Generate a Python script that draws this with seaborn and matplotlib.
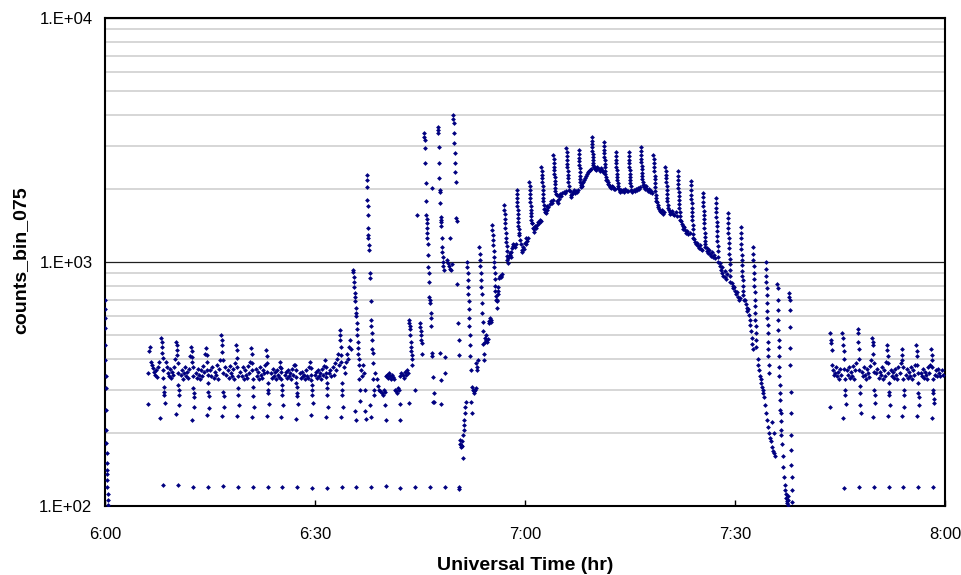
import matplotlib
matplotlib.use("Agg")
import matplotlib.pyplot as plt
from matplotlib.ticker import FixedLocator, NullFormatter
import seaborn as sns
import pandas as pd

# ---- data: (minutes after 6:00 UT, counts) ----
start_column = [(0.00, 698), (0.00, 640), (0.02, 590), (0.03, 537), (0.05, 457), (0.07, 397), (0.10, 340),
                (0.12, 304), (0.15, 247), (0.17, 205), (0.20, 181), (0.22, 165), (0.25, 150), (0.27, 140),
                (0.30, 135), (0.32, 128), (0.35, 120), (0.37, 112), (0.40, 106), (0.42, 101)]

low_points = [(8.29, 122), (10.43, 122), (12.57, 120), (14.71, 120), (16.86, 121), (19.00, 120), (21.14, 120),
              (23.29, 120), (25.29, 120), (27.43, 120), (29.57, 119), (31.71, 119), (33.81, 120), (35.86, 120),
              (37.96, 120), (40.10, 121), (42.14, 119), (44.29, 120), (46.43, 120), (48.53, 120), (50.61, 120),
              (50.61, 117), (105.60, 118), (107.76, 120), (109.86, 120), (111.96, 120), (114.04, 120),
              (116.14, 120), (118.29, 120)]

left_baseline = [
    (6.10, 350), (6.19, 262), (6.30, 430), (6.43, 448), (6.55, 390), (6.70, 378), (6.85, 368), (7.00, 355),
    (7.15, 345), (7.30, 361), (7.45, 338), (7.60, 372), (7.75, 390), (7.86, 229),
    (8.04, 490), (8.09, 470), (8.14, 448), (8.19, 424), (8.24, 404), (8.29, 361), (8.34, 335), (8.39, 307),
    (8.44, 293), (8.49, 285), (8.55, 264),
    (8.65, 390), (8.80, 370), (8.95, 350), (9.10, 340), (9.25, 365), (9.40, 335), (9.55, 355), (9.70, 345),
    (9.85, 372), (9.98, 400),
    (10.18, 470), (10.23, 458), (10.28, 436), (10.33, 415), (10.38, 385), (10.43, 350), (10.48, 313),
    (10.53, 299), (10.58, 285), (10.63, 259), (10.20, 238),
    (10.80, 345), (10.95, 360), (11.10, 330), (11.25, 350), (11.40, 370), (11.55, 340), (11.70, 355),
    (11.85, 335), (12.00, 365), (12.15, 410),
    (12.32, 448), (12.37, 430), (12.42, 408), (12.47, 390), (12.52, 372), (12.57, 340), (12.62, 304),
    (12.67, 290), (12.72, 280), (12.77, 255), (12.40, 225),
    (12.95, 350), (13.10, 335), (13.25, 365), (13.40, 345), (13.55, 330), (13.70, 360), (13.85, 340),
    (14.00, 375), (14.15, 355), (14.30, 420),
    (14.46, 443), (14.51, 415), (14.56, 390), (14.61, 361), (14.66, 345), (14.71, 320), (14.76, 293),
    (14.81, 282), (14.86, 252), (14.55, 235),
    (15.05, 360), (15.20, 340), (15.35, 370), (15.50, 335), (15.65, 355), (15.80, 345), (15.95, 380),
    (16.10, 330), (16.25, 365), (16.45, 395),
    (16.61, 502), (16.66, 479), (16.71, 457), (16.76, 428), (16.81, 397), (16.86, 350), (16.91, 293),
    (16.96, 282), (17.01, 255), (16.70, 233),
    (17.20, 370), (17.35, 345), (17.50, 360), (17.65, 335), (17.80, 375), (17.95, 350), (18.10, 340),
    (18.25, 365), (18.40, 330), (18.55, 385),
    (18.75, 457), (18.80, 436), (18.85, 405), (18.90, 370), (18.95, 340), (19.00, 304), (19.05, 285),
    (19.10, 259), (18.85, 233),
    (19.35, 355), (19.50, 340), (19.65, 370), (19.80, 330), (19.95, 360), (20.10, 345), (20.25, 335),
    (20.40, 375), (20.55, 350), (20.70, 390),
    (20.89, 443), (20.94, 420), (20.99, 385), (21.04, 360), (21.09, 330), (21.14, 307), (21.19, 282),
    (21.24, 255), (21.00, 231),
    (21.50, 365), (21.65, 340), (21.80, 355), (21.95, 330), (22.10, 370), (22.25, 345), (22.40, 335),
    (22.55, 360), (22.70, 350), (22.85, 380),
    (23.04, 436), (23.09, 410), (23.14, 385), (23.19, 355), (23.24, 319), (23.29, 300), (23.34, 290),
    (23.39, 262), (23.15, 233),
    (23.65, 350), (23.80, 335), (23.95, 365), (24.10, 340), (24.25, 355), (24.40, 330), (24.55, 360),
    (24.70, 345), (24.85, 338), (25.00, 370),
    (25.04, 390), (25.09, 368), (25.14, 355), (25.19, 330), (25.24, 313), (25.29, 298), (25.34, 285),
    (25.39, 259), (25.15, 231),
    (25.65, 345), (25.80, 355), (25.95, 335), (26.10, 360), (26.25, 340), (26.40, 350), (26.55, 332),
    (26.70, 365), (26.85, 345), (27.00, 380),
    (27.18, 378), (27.23, 360), (27.28, 338), (27.33, 320), (27.38, 307), (27.43, 290), (27.48, 282),
    (27.53, 262), (27.30, 227),
    (27.80, 350), (27.95, 335), (28.10, 355), (28.25, 340), (28.40, 345), (28.55, 330), (28.70, 360),
    (28.85, 342), (29.00, 335), (29.15, 372),
    (29.32, 390), (29.37, 368), (29.42, 345), (29.47, 328), (29.52, 313), (29.57, 298), (29.62, 285),
    (29.67, 264), (29.45, 235),
    (29.95, 345), (30.10, 355), (30.25, 335), (30.40, 360), (30.55, 340), (30.70, 350), (30.85, 330),
    (31.00, 365), (31.15, 345), (31.30, 375),
    (31.46, 397), (31.51, 372), (31.56, 350), (31.61, 338), (31.66, 320), (31.71, 304), (31.76, 285),
    (31.81, 255), (31.60, 231),
    (32.05, 350), (32.20, 360), (32.35, 340), (32.50, 370), (32.65, 345), (32.80, 385), (32.95, 360),
    (33.10, 400), (33.25, 420), (33.40, 380),
    (33.50, 526), (33.55, 502), (33.60, 479), (33.65, 448), (33.70, 415), (33.75, 390), (33.81, 320),
    (33.86, 299), (33.91, 285), (33.96, 255), (33.70, 231),
    (34.10, 370), (34.25, 350), (34.40, 390), (34.55, 420), (34.70, 400), (34.85, 450), (35.00, 480),
    (35.15, 440),
]

mid_disturbed = [
    (35.40, 930), (35.45, 910), (35.50, 870), (35.55, 830), (35.60, 790), (35.65, 745), (35.70, 720),
    (35.75, 690), (35.80, 650), (35.85, 620), (35.90, 600), (35.95, 560), (36.00, 530), (36.05, 500),
    (36.10, 470), (36.15, 445), (36.20, 420), (36.25, 400), (36.30, 380), (36.35, 330), (36.40, 300),
    (36.45, 270), (35.75, 246), (35.85, 225),
    (36.60, 360), (36.75, 340), (36.90, 380), (37.05, 350), (37.20, 300), (37.10, 246), (37.25, 228),
    (37.40, 2270), (37.42, 2170), (37.45, 2030), (37.48, 1800), (37.50, 1690), (37.53, 1560), (37.56, 1380),
    (37.59, 1290), (37.62, 1250), (37.65, 1170), (37.68, 1120), (37.80, 900), (37.85, 860), (37.95, 690),
    (38.00, 580), (38.05, 545), (38.10, 510), (38.15, 480), (38.20, 440), (38.25, 425), (38.30, 385),
    (38.35, 330), (38.40, 300), (38.45, 285), (37.90, 259), (38.00, 231),
    (38.60, 350), (38.80, 330), (39.00, 310), (39.20, 300), (39.35, 295), (39.50, 290), (39.65, 285),
    (39.80, 300), (39.95, 292), (40.10, 340), (40.25, 345), (40.40, 335), (40.55, 350), (40.70, 340),
    (40.85, 330), (41.00, 345), (41.15, 338), (41.30, 330), (41.45, 300), (41.60, 295), (41.75, 290),
    (41.90, 305), (42.05, 298), (42.20, 340), (42.35, 350), (42.50, 345), (42.65, 335), (42.80, 355),
    (42.95, 345), (43.10, 360), (43.25, 350),
    (40.00, 259), (40.10, 225), (42.10, 262), (42.20, 225), (43.40, 264),
    (43.40, 580), (43.45, 560), (43.50, 545), (43.55, 530), (43.60, 500), (43.65, 470), (43.70, 450),
    (43.75, 430), (43.80, 415), (43.85, 400), (43.90, 380), (44.30, 299), (44.60, 1560),
    (45.00, 560), (45.05, 540), (45.10, 520), (45.15, 500), (45.20, 480), (45.25, 465), (45.30, 420),
    (45.60, 3380), (45.62, 3250), (45.65, 3160), (45.70, 2930), (45.75, 2550), (45.80, 2100), (45.85, 1770),
    (45.90, 1560), (45.93, 1500), (45.96, 1440), (46.00, 1380), (46.03, 1320), (46.06, 1260), (46.10, 1190),
    (46.15, 1070), (46.20, 950), (46.23, 900), (46.28, 830), (46.35, 720), (46.40, 700), (46.45, 680),
    (46.50, 620), (46.55, 590), (46.60, 545), (46.70, 425), (46.75, 410), (46.85, 338), (46.95, 290),
    (47.05, 267), (46.75, 2010),
    (47.55, 3580), (47.58, 3480), (47.60, 3380), (47.65, 2960), (47.70, 2550), (47.75, 2210), (47.80, 1970),
    (47.83, 1940), (47.88, 1750), (47.93, 1530), (47.96, 1490), (48.00, 1460), (48.03, 1400), (48.10, 1250),
    (48.15, 1150), (48.20, 1100), (48.25, 1050), (48.30, 1000), (48.35, 960), (48.40, 930),
    (47.90, 424), (48.60, 408), (48.00, 328), (48.60, 350), (48.00, 262), (46.80, 267),
    (48.90, 1020), (49.00, 990), (49.10, 960), (49.30, 1260), (49.35, 940), (49.45, 930), (49.55, 980),
    (49.75, 4010), (49.78, 3850), (49.80, 3710), (49.85, 3380), (49.90, 3080), (49.95, 2800), (50.00, 2550),
    (50.05, 2340), (50.10, 2130), (50.20, 1510), (50.25, 1470), (50.35, 810), (50.45, 560), (50.50, 480),
    (50.55, 415),
    (50.70, 186), (50.78, 180), (50.85, 175), (50.92, 178), (51.00, 184), (51.05, 176), (51.10, 157),
    (51.15, 195), (51.22, 205), (51.28, 215), (51.34, 225), (51.40, 240), (51.46, 255), (51.52, 267),
]

arc_spikes = [
    (51.71, 1000), (51.75, 950), (51.79, 900), (51.83, 843), (51.87, 790), (51.91, 740), (51.95, 690),
    (51.99, 640), (52.03, 590), (52.07, 545), (52.11, 500), (52.15, 455), (52.19, 410), (52.23, 361),
    (52.35, 267), (52.40, 240), (52.45, 307), (52.55, 300), (52.65, 295), (52.75, 290), (52.85, 300),
    (52.95, 305), (53.05, 385), (53.12, 370), (53.20, 361), (53.28, 395),
    (53.45, 1150), (53.50, 1080), (53.55, 1020), (53.60, 960), (53.65, 900), (53.70, 843), (53.75, 790),
    (53.80, 740), (53.85, 680), (53.90, 620), (53.95, 570), (54.00, 520), (54.05, 460), (54.10, 420),
    (54.15, 397),
    (54.25, 470), (54.32, 490), (54.40, 480), (54.48, 500), (54.56, 470), (54.65, 485), (54.80, 560),
    (54.90, 575), (55.00, 590), (55.10, 570), (55.20, 580),
    (55.30, 1420), (55.34, 1350), (55.38, 1290), (55.42, 1230), (55.46, 1170), (55.50, 1110), (55.54, 1050),
    (55.58, 1000), (55.62, 950), (55.66, 900), (55.70, 850), (55.74, 800), (55.78, 760), (55.82, 725),
    (55.86, 698),
    (55.95, 690), (56.00, 650), (56.05, 700), (56.10, 740), (56.15, 760), (56.20, 790), (56.30, 860),
    (56.40, 880), (56.50, 870), (56.60, 880), (56.70, 890),
    (57.00, 1710), (57.04, 1640), (57.08, 1570), (57.12, 1500), (57.16, 1440), (57.20, 1380), (57.24, 1320),
    (57.28, 1260), (57.32, 1210), (57.36, 1160), (57.40, 1110), (57.44, 1060), (57.48, 1020), (57.52, 990),
    (57.60, 1040), (57.70, 1060), (57.80, 1090), (57.88, 1070), (57.95, 1050), (58.05, 1100), (58.15, 1140),
    (58.25, 1160), (58.35, 1180), (58.45, 1170), (58.55, 1150), (58.65, 1180),
    (58.80, 1970), (58.83, 1900), (58.86, 1830), (58.89, 1760), (58.92, 1700), (58.95, 1640), (58.98, 1580),
    (59.01, 1520), (59.04, 1460), (59.07, 1410), (59.10, 1360), (59.13, 1310),
    (59.20, 1290), (59.30, 1230), (59.40, 1180), (59.50, 1120), (59.60, 1100), (59.70, 1150), (59.80, 1130),
    (59.95, 1200), (60.10, 1180), (60.20, 1250), (60.30, 1220), (60.45, 1260),
    (60.62, 2130), (60.65, 2050), (60.68, 1970), (60.71, 1900), (60.74, 1830), (60.77, 1760), (60.80, 1700),
    (60.83, 1640), (60.86, 1590), (60.89, 1540), (60.92, 1490), (60.95, 1440),
    (61.05, 1440), (61.15, 1380), (61.25, 1330), (61.35, 1360), (61.45, 1400), (61.55, 1380), (61.65, 1420),
    (61.80, 1460), (61.95, 1440), (62.10, 1490), (62.25, 1470),
    (62.35, 2460), (62.38, 2370), (62.41, 2280), (62.44, 2200), (62.47, 2120), (62.50, 2040), (62.53, 1970),
    (62.56, 1900), (62.59, 1830), (62.62, 1770), (62.65, 1710), (62.68, 1650),
    (62.80, 1650), (62.90, 1600), (63.00, 1590), (63.10, 1640), (63.20, 1700), (63.35, 1680), (63.50, 1730),
    (63.65, 1770), (63.80, 1750), (63.95, 1790),
    (64.05, 2750), (64.08, 2650), (64.11, 2550), (64.14, 2460), (64.17, 2380), (64.20, 2300), (64.23, 2220),
    (64.26, 2150), (64.29, 2080), (64.32, 2010), (64.35, 1950), (64.38, 1900),
    (64.50, 1880), (64.60, 1780), (64.70, 1750), (64.80, 1820), (64.90, 1860), (65.05, 1900), (65.20, 1870),
    (65.35, 1920), (65.50, 1940), (65.65, 1910), (65.80, 1950),
    (65.92, 2930), (65.95, 2820), (65.98, 2720), (66.01, 2620), (66.04, 2530), (66.07, 2440), (66.10, 2360),
    (66.13, 2280), (66.16, 2200), (66.19, 2120), (66.22, 2050), (66.25, 1970),
    (66.40, 1950), (66.50, 1880), (66.60, 1840), (66.70, 1900), (66.85, 1930), (67.00, 1970), (67.15, 1910),
    (67.30, 1950), (67.45, 1930), (67.58, 1970),
    (67.65, 2880), (67.68, 2780), (67.71, 2680), (67.74, 2590), (67.77, 2500), (67.80, 2420), (67.83, 2340),
    (67.86, 2260), (67.89, 2190), (67.92, 2120), (67.95, 2070), (67.98, 2030),
    (68.10, 2050), (68.20, 2100), (68.30, 2130), (68.45, 2170), (68.60, 2210), (68.75, 2250), (68.90, 2300),
    (69.05, 2330), (69.20, 2360), (69.35, 2380), (69.45, 2400),
    (69.50, 3250), (69.53, 3140), (69.56, 3040), (69.59, 2950), (69.62, 2860), (69.65, 2780), (69.68, 2700),
    (69.71, 2620), (69.74, 2550), (69.77, 2500), (69.80, 2460),
    (69.90, 2460), (70.00, 2400), (70.10, 2380), (70.20, 2420), (70.35, 2440), (70.50, 2400), (70.65, 2360),
    (70.80, 2420), (70.95, 2380), (71.10, 2340),
    (71.22, 3100), (71.25, 2990), (71.28, 2890), (71.31, 2790), (71.34, 2700), (71.37, 2610), (71.40, 2530),
    (71.43, 2450), (71.46, 2370), (71.49, 2300), (71.52, 2230), (71.55, 2170),
    (71.70, 2170), (71.80, 2130), (71.90, 2090), (72.00, 2060), (72.15, 2030), (72.30, 2010), (72.45, 2050),
    (72.60, 2020), (72.75, 1990), (72.88, 2000),
    (72.95, 2820), (72.98, 2720), (73.01, 2630), (73.04, 2540), (73.07, 2460), (73.10, 2380), (73.13, 2300),
    (73.16, 2230), (73.19, 2160), (73.22, 2100), (73.25, 2050), (73.28, 2010),
    (73.40, 2000), (73.50, 1960), (73.60, 1940), (73.75, 1980), (73.90, 1950), (74.05, 1970), (74.20, 1940),
    (74.35, 1990), (74.50, 1960), (74.65, 1950),
    (74.80, 2820), (74.83, 2720), (74.86, 2630), (74.89, 2540), (74.92, 2460), (74.95, 2380), (74.98, 2300),
    (75.01, 2230), (75.04, 2160), (75.07, 2100), (75.10, 2040), (75.13, 1980),
    (75.25, 1960), (75.35, 1940), (75.50, 1980), (75.65, 1960), (75.80, 2000), (75.95, 1970), (76.10, 2010),
    (76.25, 1990), (76.40, 2020),
    (76.50, 2960), (76.53, 2850), (76.56, 2750), (76.59, 2650), (76.62, 2560), (76.65, 2480), (76.68, 2400),
    (76.71, 2320), (76.74, 2250), (76.77, 2180), (76.80, 2120), (76.83, 2070),
    (76.95, 2070), (77.05, 2030), (77.15, 2000), (77.30, 2040), (77.45, 1990), (77.60, 1960), (77.75, 1990),
    (77.90, 1940), (78.05, 1960), (78.20, 1920),
    (78.35, 2750), (78.38, 2640), (78.41, 2540), (78.44, 2440), (78.47, 2350), (78.50, 2260), (78.53, 2180),
    (78.56, 2100), (78.59, 2030), (78.62, 1960), (78.65, 1890), (78.68, 1830), (78.71, 1770),
    (78.85, 1760), (78.95, 1720), (79.05, 1680), (79.15, 1650), (79.30, 1620), (79.45, 1600), (79.60, 1640),
    (79.75, 1580), (79.90, 1600),
    (80.07, 2460), (80.10, 2370), (80.13, 2280), (80.16, 2200), (80.19, 2120), (80.22, 2040), (80.25, 1970),
    (80.28, 1900), (80.31, 1830), (80.34, 1770), (80.37, 1710), (80.40, 1660),
    (80.55, 1640), (80.65, 1600), (80.75, 1570), (80.90, 1590), (81.05, 1620), (81.20, 1580), (81.35, 1560),
    (81.50, 1600), (81.65, 1540),
    (81.80, 2350), (81.83, 2260), (81.86, 2170), (81.89, 2090), (81.92, 2010), (81.95, 1940), (81.98, 1870),
    (82.01, 1800), (82.04, 1730), (82.07, 1670), (82.10, 1610), (82.13, 1550), (82.16, 1490),
    (82.30, 1470), (82.40, 1430), (82.50, 1400), (82.60, 1370), (82.75, 1390), (82.90, 1350), (83.05, 1320),
    (83.20, 1340), (83.35, 1300), (83.50, 1310),
    (83.65, 2150), (83.68, 2060), (83.71, 1970), (83.74, 1890), (83.77, 1810), (83.80, 1740), (83.83, 1670),
    (83.86, 1600), (83.89, 1540), (83.92, 1480), (83.95, 1420), (83.98, 1360), (84.01, 1300), (84.04, 1250),
    (84.20, 1240), (84.30, 1210), (84.40, 1180), (84.55, 1200), (84.70, 1160), (84.85, 1140), (85.00, 1170),
    (85.15, 1130), (85.30, 1120),
    (85.38, 1920), (85.41, 1840), (85.44, 1760), (85.47, 1690), (85.50, 1620), (85.53, 1560), (85.56, 1500),
    (85.59, 1440), (85.62, 1380), (85.65, 1320), (85.68, 1270), (85.71, 1220), (85.74, 1180), (85.77, 1150),
    (85.95, 1140), (86.05, 1110), (86.15, 1090), (86.30, 1120), (86.45, 1080), (86.60, 1060), (86.75, 1100),
    (86.90, 1050), (87.05, 1070), (87.15, 1040),
    (87.22, 1830), (87.25, 1750), (87.28, 1670), (87.31, 1600), (87.34, 1530), (87.37, 1460), (87.40, 1400),
    (87.43, 1340), (87.46, 1280), (87.49, 1220), (87.52, 1160), (87.55, 1110), (87.58, 1050), (87.61, 1000),
    (87.80, 990), (87.90, 960), (88.00, 930), (88.10, 950), (88.20, 900), (88.35, 880), (88.50, 920),
    (88.60, 870), (88.75, 850), (88.85, 890),
    (88.95, 1590), (88.98, 1520), (89.01, 1450), (89.04, 1380), (89.07, 1320), (89.10, 1260), (89.13, 1200),
    (89.16, 1140), (89.19, 1080), (89.22, 1030), (89.25, 980), (89.28, 930), (89.31, 880), (89.34, 830),
    (89.55, 820), (89.65, 800), (89.75, 780), (89.85, 790), (89.95, 760), (90.10, 740), (90.25, 750),
    (90.40, 720), (90.55, 700), (90.70, 710),
    (90.80, 1390), (90.83, 1320), (90.86, 1250), (90.89, 1190), (90.92, 1130), (90.95, 1070), (90.98, 1020),
    (91.01, 970), (91.04, 920), (91.07, 880), (91.10, 840), (91.13, 800), (91.16, 760), (91.19, 730),
    (91.22, 700),
    (91.45, 700), (91.55, 670), (91.65, 650), (91.75, 630), (91.85, 640), (92.00, 605), (92.10, 580),
    (92.20, 550), (92.30, 520), (92.40, 490), (92.48, 460), (92.55, 440),
    (92.58, 1150), (92.61, 1080), (92.64, 1020), (92.67, 960), (92.70, 900), (92.73, 850), (92.76, 800),
    (92.79, 750), (92.82, 700), (92.85, 660), (92.88, 620), (92.91, 580), (92.94, 545), (92.97, 510),
    (93.00, 480), (93.03, 450),
    (93.25, 400), (93.35, 380), (93.45, 361), (93.55, 340), (93.65, 330), (93.75, 320), (93.85, 307),
    (93.95, 300), (94.05, 290), (94.15, 280), (94.25, 260), (94.40, 240), (94.55, 225), (94.70, 210),
    (94.38, 1000), (94.41, 940), (94.44, 880), (94.47, 830), (94.50, 780), (94.53, 730), (94.56, 680),
    (94.59, 630), (94.62, 590), (94.65, 550), (94.68, 510), (94.71, 470), (94.74, 440), (94.77, 410),
    (94.80, 380), (94.83, 350),
    (94.85, 200), (94.95, 190), (95.10, 185), (95.25, 175), (95.40, 168), (95.55, 165), (95.70, 160),
    (95.50, 200), (95.30, 220),
    (96.05, 810), (96.08, 780), (96.11, 700), (96.14, 635), (96.17, 580), (96.20, 526), (96.23, 480),
    (96.26, 448), (96.29, 410), (96.32, 372), (96.35, 340), (96.38, 313), (96.41, 290), (96.44, 272),
    (96.47, 247), (96.50, 240), (96.53, 222), (96.56, 205),
    (96.60, 195), (96.70, 180), (96.80, 160), (96.90, 145), (97.00, 132), (97.10, 122), (97.15, 116),
    (97.25, 112), (97.30, 108), (97.40, 105), (97.45, 103), (97.50, 101), (97.55, 110), (97.60, 106),
    (97.75, 745), (97.77, 720), (97.79, 700), (97.82, 635), (97.85, 540), (97.88, 443), (97.91, 378),
    (97.94, 293), (97.97, 240), (98.00, 195), (98.03, 170), (98.06, 147), (98.09, 131), (98.12, 116),
    (98.15, 104),
]

right_baseline = [
    (103.55, 255), (103.60, 510), (103.65, 480), (103.70, 465), (103.80, 436), (103.90, 378), (104.00, 360),
    (104.10, 344), (104.25, 350), (104.40, 370), (104.55, 340), (104.70, 355), (104.85, 330), (105.00, 365),
    (105.15, 345),
    (105.35, 510), (105.40, 490), (105.45, 457), (105.50, 430), (105.55, 400), (105.60, 365), (105.65, 330),
    (105.70, 300), (105.75, 285), (105.80, 262), (105.40, 229),
    (105.95, 360), (106.10, 345), (106.25, 370), (106.40, 335), (106.55, 355), (106.70, 340), (106.85, 375),
    (107.00, 330), (107.15, 360), (107.30, 385),
    (107.51, 530), (107.56, 510), (107.61, 470), (107.66, 440), (107.71, 400), (107.76, 360), (107.81, 310),
    (107.86, 290), (107.91, 259), (107.96, 240),
    (108.10, 355), (108.25, 340), (108.40, 370), (108.55, 345), (108.70, 330), (108.85, 365), (109.00, 350),
    (109.15, 338), (109.30, 375), (109.45, 395),
    (109.61, 490), (109.66, 470), (109.71, 457), (109.76, 420), (109.81, 385), (109.86, 355), (109.91, 300),
    (109.96, 285), (110.01, 264), (109.70, 231),
    (110.20, 350), (110.35, 365), (110.50, 335), (110.65, 355), (110.80, 345), (110.95, 370), (111.10, 330),
    (111.25, 360), (111.40, 340), (111.55, 390),
    (111.71, 457), (111.76, 436), (111.81, 410), (111.86, 385), (111.91, 350), (111.96, 320), (112.01, 293),
    (112.06, 285), (112.11, 260), (111.80, 233),
    (112.30, 360), (112.45, 340), (112.60, 355), (112.75, 335), (112.90, 365), (113.05, 345), (113.20, 330),
    (113.35, 370), (113.50, 350), (113.65, 385),
    (113.79, 440), (113.84, 415), (113.89, 395), (114.00, 370), (114.04, 330), (114.09, 300), (114.14, 285),
    (114.20, 255), (113.90, 233),
    (114.40, 345), (114.55, 365), (114.70, 335), (114.85, 355), (115.00, 340), (115.15, 370), (115.30, 330),
    (115.45, 360), (115.60, 345), (115.75, 380),
    (115.89, 457), (115.94, 430), (115.99, 410), (116.04, 380), (116.09, 350), (116.14, 320), (116.19, 290),
    (116.24, 280), (116.29, 259), (116.00, 233),
    (116.50, 350), (116.65, 340), (116.80, 365), (116.95, 335), (117.10, 355), (117.25, 345), (117.40, 330),
    (117.55, 370), (117.70, 350), (117.85, 380),
    (118.04, 440), (118.09, 415), (118.14, 397), (118.19, 370), (118.24, 330), (118.29, 300), (118.34, 290),
    (118.39, 275), (118.44, 264), (118.10, 229),
    (118.60, 345), (118.75, 360), (118.90, 340), (119.05, 365), (119.20, 350), (119.35, 340), (119.55, 360),
    (119.70, 345),
]

tick_minutes = [0, 30, 60, 90, 120]
tick_labels = ["6:00", "6:30", "7:00", "7:30", "8:00"]
y_ticks = [100, 1000, 10000]
y_tick_labels = ["1.E+02", "1.E+03", "1.E+04"]

# ---- assemble ----
all_pts = start_column + low_points + left_baseline + mid_disturbed + arc_spikes + right_baseline
df = pd.DataFrame(all_pts, columns=["minutes", "counts"])

sns.set_theme(style="white")
plt.rcParams["font.family"] = ["Liberation Sans", "DejaVu Sans"]

W, H = 961, 575
fig = plt.figure(figsize=(W / 100, H / 100), dpi=100)
ax = fig.add_axes([105 / W, 1 - 506 / H, 840 / W, 488 / H])

ax.set_yscale("log")
ax.set_xlim(0, 120)
ax.set_ylim(100, 10000)

# gridlines (minor gray, major dark)
ax.yaxis.set_minor_locator(FixedLocator([m * 10 ** e for e in (2, 3) for m in range(2, 10)]))
ax.yaxis.set_minor_formatter(NullFormatter())
ax.grid(which="minor", axis="y", color="#cccccc", linewidth=1.1)
ax.grid(which="major", axis="y", color="#202020", linewidth=0.9)
ax.grid(which="both", axis="x", visible=False)
ax.set_axisbelow(True)

sns.scatterplot(data=df, x="minutes", y="counts", ax=ax, color="#000080", marker="D",
                s=6, linewidth=0, legend=False, zorder=3)

ax.set_xticks(tick_minutes)
ax.set_xticklabels(tick_labels)
ax.set_yticks(y_ticks)
ax.set_yticklabels(y_tick_labels)
ax.tick_params(axis="x", which="major", direction="in", length=4.5, width=1, color="black",
               pad=15, labelsize=12, labelcolor="black", top=False, bottom=True)
ax.tick_params(axis="y", which="both", length=0, pad=9, labelsize=12, labelcolor="black")
ax.tick_params(axis="x", which="minor", length=0)

for sp in ax.spines.values():
    sp.set_visible(True)
    sp.set_color("black")
    sp.set_linewidth(1.5)

ax.set_xlabel("Universal Time (hr)", fontsize=14, fontweight="bold", color="black")
ax.set_ylabel("counts_bin_075", fontsize=14, fontweight="bold", color="black")
ax.xaxis.set_label_coords(0.5, -0.105)
ax.yaxis.set_label_coords(-0.090, 0.504)

fig.patch.set_facecolor("white")
ax.set_facecolor("white")
fig.savefig("out.png", dpi=100, facecolor="white")
